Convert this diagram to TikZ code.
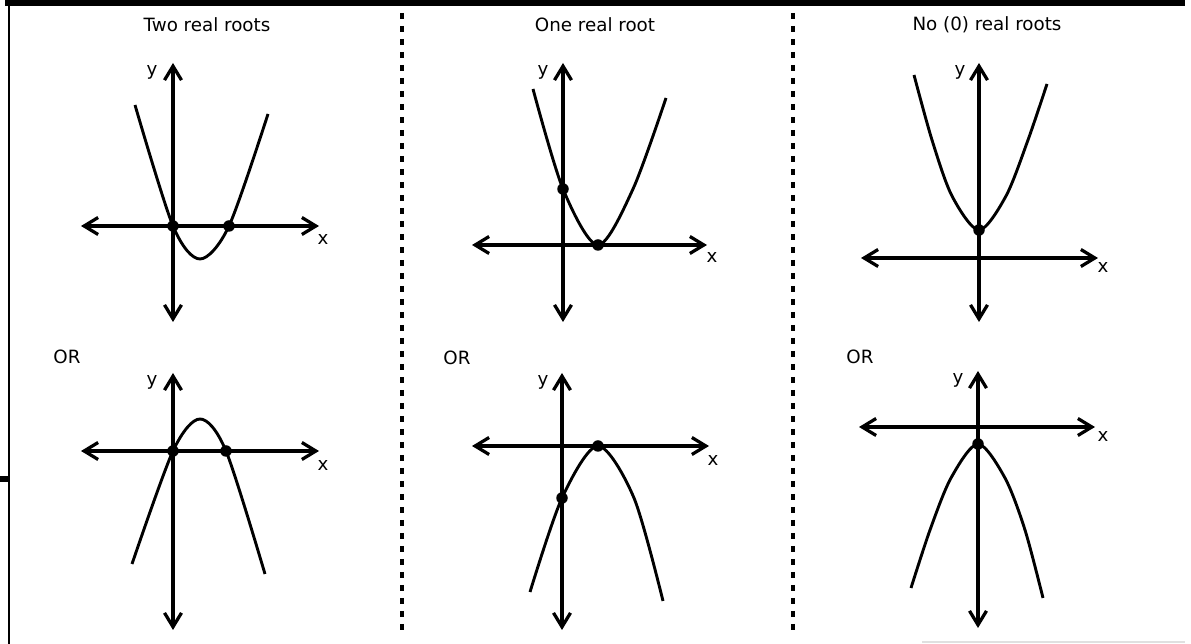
\documentclass[tikz,border=0pt]{standalone}
\usepackage{fontspec}
\setmainfont{DejaVu Sans}
\usetikzlibrary{arrows.meta,positioning}

\tikzset{
  axis/.style={line width=0.065cm,
    {Straight Barb[length=0.28cm,width=0.34cm]}-{Straight Barb[length=0.28cm,width=0.34cm]}},
  curve/.style={line width=0.058cm},
  rootdot/.style={circle,fill=black,inner sep=0pt,minimum size=0.23cm},
  lbl/.style={font=\fontsize{10.4}{12}\selectfont,inner sep=0pt},
  divider/.style={line width=0.065cm,dash pattern=on 0.12cm off 0.14cm}
}

\begin{document}
\begin{tikzpicture}[x=0.02cm,y=-0.02cm]
\useasboundingbox (0,0) rectangle (1191,644);

%frame
\fill (5,0) rectangle (1185,6);
\draw[line width=0.05cm] (9,0) -- (9,644);
\fill (0,476) rectangle (9,482);
\draw[black!12,line width=0.04cm] (922,642) -- (1185,642);
\draw[divider] (402,13) -- (402,634);
\draw[divider] (793,13) -- (793,634);

%titles
\node[lbl] (t1) at (207,25) {Two real roots};
\node[lbl] (t2) at (595,25) {One real root};
\node[lbl] (t3) at (987,25) {No (0) real roots};
\node[lbl] (or1) at (67,357) {OR};
\node[lbl] (or2) at (457,358) {OR};
\node[lbl] (or3) at (860,357) {OR};

%two roots, up
\draw[axis] (173,322) -- (173,63);
\draw[axis] (81,226) -- (319,226);
\draw[curve] plot[smooth] coordinates {(135,105) (173,226) (200,259) (229,226) (268,114)};
\node[rootdot] (a1) at (173,226) {};
\node[rootdot] (a2) at (229,226) {};
\node[lbl] (ya) at (152,72) {y};
\node[lbl] (xa) at (323,240) {x};

%two roots, down
\draw[axis] (173,630) -- (173,373);
\draw[axis] (81,451) -- (319,451);
\draw[curve] plot[smooth] coordinates {(132,564) (173,451) (200,419) (226,451) (265,574)};
\node[rootdot] (b1) at (173,451) {};
\node[rootdot] (b2) at (226,451) {};
\node[lbl] (yb) at (152,382) {y};
\node[lbl] (xb) at (323,466) {x};

%one root, up
\draw[axis] (563,322) -- (563,63);
\draw[axis] (472,245) -- (707,245);
\draw[curve] plot[smooth] coordinates {(533,89) (563,189) (598,245) (633,189) (666,98)};
\node[rootdot] (c1) at (563,189) {};
\node[rootdot] (c2) at (598,245) {};
\node[lbl] (yc) at (543,72) {y};
\node[lbl] (xc) at (712,258) {x};

%one root, down
\draw[axis] (562,630) -- (562,373);
\draw[axis] (472,446) -- (709,446);
\draw[curve] plot[smooth] coordinates {(530,592) (562,498) (598,446) (634,498) (663,601)};
\node[rootdot] (d1) at (562,498) {};
\node[rootdot] (d2) at (598,446) {};
\node[lbl] (yd) at (543,382) {y};
\node[lbl] (xd) at (713,461) {x};

%no roots, up
\draw[axis] (979,322) -- (979,63);
\draw[axis] (861,258) -- (1098,258);
\draw[curve] plot[smooth] coordinates {(914,75) (932,140) (952,196) (979,230) (1006,196) (1028,140) (1047,84)};
\node[rootdot] (e1) at (979,230) {};
\node[lbl] (ye) at (960,72) {y};
\node[lbl] (xe) at (1103,268) {x};

%no roots, down
\draw[axis] (978,628) -- (978,371);
\draw[axis] (859,427) -- (1095,427);
\draw[curve] plot[smooth] coordinates {(911,588) (930,530) (951,478) (978,444) (1005,478) (1025,530) (1043,598)};
\node[rootdot] (f1) at (978,444) {};
\node[lbl] (yf) at (958,380) {y};
\node[lbl] (xf) at (1103,437) {x};
\end{tikzpicture}
\end{document}
